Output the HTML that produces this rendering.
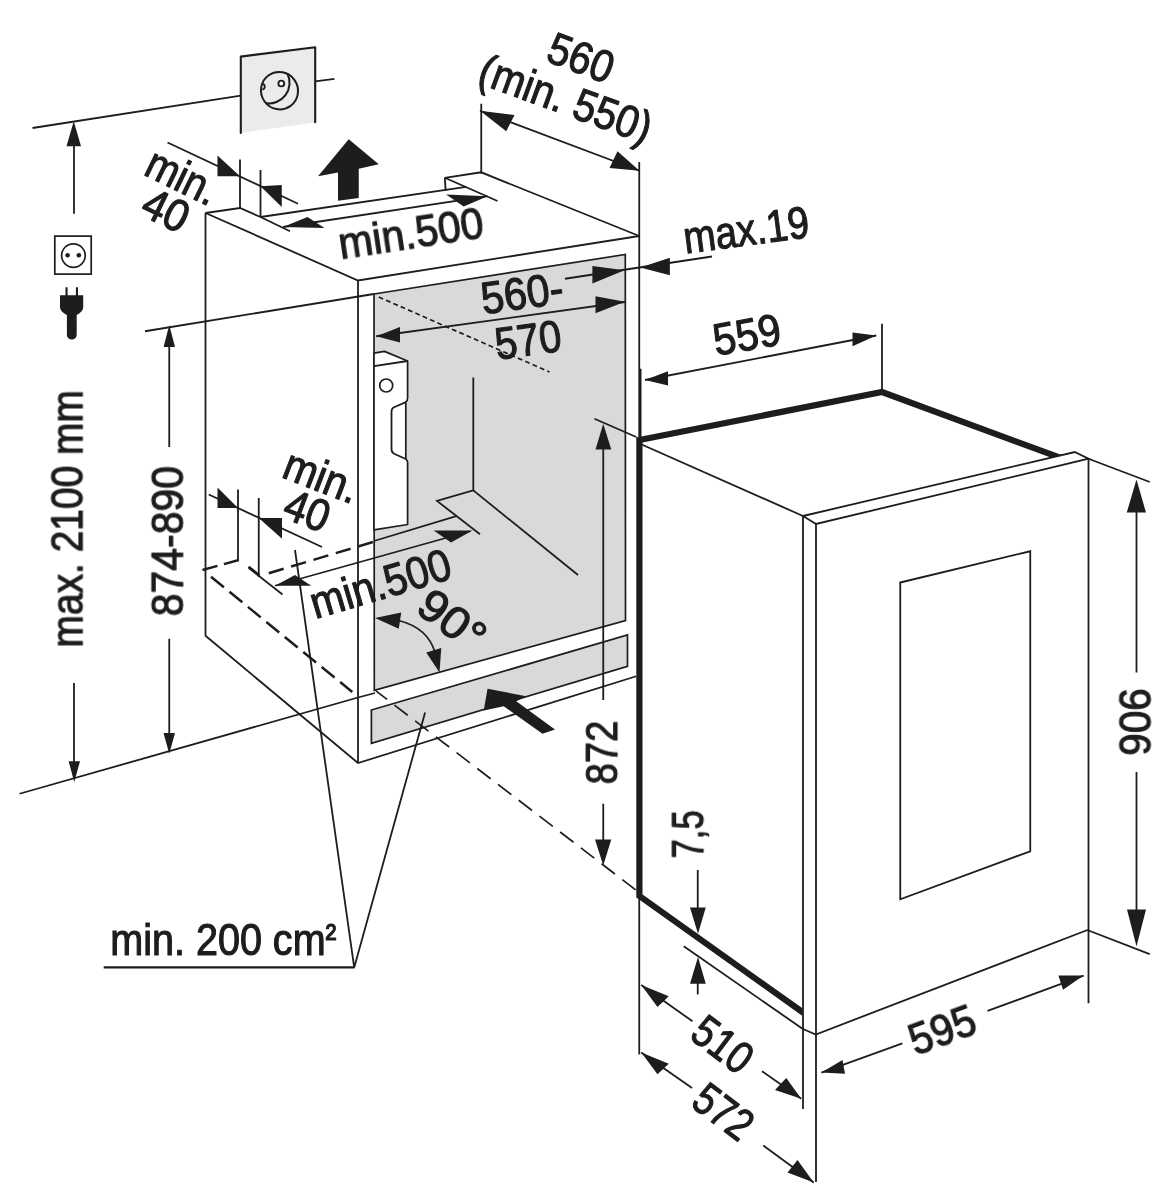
<!DOCTYPE html>
<html>
<head>
<meta charset="utf-8">
<title>Installation dimensions</title>
<style>
html,body{margin:0;padding:0;background:#fff;}
body{width:1168px;height:1200px;overflow:hidden;}
svg{display:block;}
.l{stroke:#1d1d1b;stroke-width:1.8;fill:none;stroke-linecap:butt;}
.k{stroke:#1d1d1b;stroke-width:6.2;fill:none;stroke-linejoin:miter;}
.a{fill:#1d1d1b;stroke:none;}
.g{fill:#d9d9d9;stroke:#1d1d1b;stroke-width:1.7;}
.t{font-family:"Liberation Sans",sans-serif;font-size:45px;fill:#1d1d1b;stroke:#1d1d1b;stroke-width:1.15;stroke-linejoin:round;text-anchor:middle;}
</style>
</head>
<body>
<svg width="1168" height="1200" viewBox="0 0 1168 1200">
<rect x="0" y="0" width="1168" height="1200" fill="#ffffff"/>

<!-- ===== GREY AREAS ===== -->
<g id="fills">
<polygon points="240.5,56.3 315.5,47 315.5,122.5 240.5,133" fill="#ebebeb"/>
<polygon class="g" points="374,294 625.3,254.5 625.5,620.5 374.3,690.3"/>
<polygon class="g" points="371.4,710 627.5,635 627.5,666.25 371.4,743.3"/>
</g>

<!-- ===== CEILING / SOCKET ===== -->
<g id="ceiling">
<path class="l" style="stroke-linecap:butt" d="M32.5,128 L240.8,95.7 M315.2,81.4 L334.5,78.8"/>
<path class="l" style="stroke-width:2.1;stroke-linecap:round;stroke-linejoin:round" d="M240.8,133 L240.8,56.6 L315.2,47.2 L315.2,122.3"/>
<ellipse class="l" style="stroke-width:2" cx="279.5" cy="90.7" rx="18.4" ry="18.8" transform="rotate(-35 279.5 90.7)"/>
<path class="l" style="stroke-width:2" d="M287.4,73.6 A20.6,20.6 0 0 1 265.3,103.1"/>
<circle cx="281.3" cy="83.5" r="2.9" fill="#ffffff" stroke="#1d1d1b" stroke-width="1.9"/>
<path class="l" style="stroke-width:1.8" d="M262.2,83.7 A3,3 0 0 1 262.4,89.6"/>
</g>

<!-- ===== LEFT DIMENSION max.2100 ===== -->
<g id="dim2100">
<path class="l" d="M74,146 L74,213.75 M74,683 L74,762"/>
<polygon class="a" points="73.75,121.25 66.5,146.25 81,146.25"/>
<polygon class="a" points="74.25,782 68.6,761.25 80,761.25"/>
<rect x="54.8" y="236.1" width="36.4" height="38" fill="none" stroke="#1d1d1b" stroke-width="1.7"/>
<circle cx="73.4" cy="255.6" r="11.8" fill="none" stroke="#1d1d1b" stroke-width="1.7"/>
<circle class="a" cx="67.6" cy="255.2" r="2.3"/>
<circle class="a" cx="78.85" cy="255.2" r="2.3"/>
<path class="a" d="M65.5,287.3 h2.1 v8 h8.3 v-8 h2.1 v8 h5.2 v12 Q83.2,311.8 76.7,315 V334.7 A4.9,4.9 0 0 1 66.9,334.7 V315 Q60,311.8 60,307.3 v-12 h5.5 z"/>
</g>

<!-- ===== FLOOR LINE ===== -->
<path class="l" d="M19.5,793.75 L358,697.5 L375,693"/>

<!-- ===== 874-890 ===== -->
<g id="dim874">
<path class="l" d="M145,331.25 L373.75,294"/>
<path class="l" d="M169.25,346 L169.25,447 M169.25,638.75 L169.25,734"/>
<polygon class="a" points="169.25,325 163.6,347 175,347"/>
<polygon class="a" points="169.25,753.75 163.5,733 175,733"/>
</g>

<!-- ===== CABINET ===== -->
<g id="cabinet">
<path class="l" d="M205.5,213 L205.5,635.75 L358,763 L636.25,676.25"/>
<path class="l" d="M358,280.5 L358,763"/>
<path class="l" d="M205.5,213 L358,280.5 L639.25,236"/>
<path class="l" d="M205.5,213 L240,208 L260.5,217 L290,231.25"/>
<path class="l" d="M260.5,217 L466.2,186.8"/>
<path class="l" d="M444.8,177.8 L445.7,191"/>
<path class="l" d="M444.8,177.8 L481.2,172.3 L639.25,236"/>
<path class="l" d="M444.8,177.8 L497.5,201"/>
<path class="l" d="M639.25,162 L639.25,440"/>
<path class="l" d="M640.6,368.75 L640.6,440"/>
<path class="l" d="M481.25,103.75 L481.25,173.5"/>
</g>

<!-- ===== min.40 top ===== -->
<g id="min40top">
<path class="l" d="M167.5,142.5 L298,203.75"/>
<path class="l" d="M240,159.5 L240,208 M260.5,170 L260.5,217"/>
<polygon class="a" points="240,176.3 217.5,155.5 217.5,176.3"/>
<polygon class="a" points="260.5,186.25 281.75,185 281.75,207"/>
</g>

<!-- ===== min.500 top ===== -->
<g id="min500top">
<path class="l" d="M283,227 L487.6,196.2"/>
<polygon class="a" points="283,227 307.5,217 324.5,228"/>
<polygon class="a" points="487.6,196.2 446.1,194.5 463.7,206.5"/>
<polygon class="a" points="348.75,139.25 378.75,164.25 358.75,168.75 358.75,198 338,200.75 338,172.5 318,176.25"/>
</g>

<!-- ===== 560 (min.550) ===== -->
<g id="dim560">
<path class="l" d="M480,110.75 L639.5,170.75"/>
<polygon class="a" points="480,110.75 514.5,115 506.25,131.25"/>
<polygon class="a" points="639.5,170.75 617.5,151.25 609.5,168"/>
</g>

<!-- ===== max.19 ===== -->
<g id="max19">
<path class="l" d="M565,278.75 L712,256.5"/>
<polygon class="a" points="624.5,270.3 592.4,266 592.4,283.4"/>
<polygon class="a" points="640.2,267.4 669.9,257.7 669.9,275.2"/>
</g>

<!-- ===== 560-570 ===== -->
<g id="dim570">
<path class="l" d="M376.25,336.25 L625,302"/>
<polygon class="a" points="376.25,336.25 400,327 400,342.5"/>
<polygon class="a" points="624.8,301.8 595.5,296.2 595.5,313.2"/>
<path class="l" style="stroke-width:1.7" d="M378.75,297 L549.5,372" stroke-dasharray="4.8,3.2"/>
</g>

<!-- ===== HINGE PART ===== -->
<g id="hinge">
<path d="M374,353.1 L384.5,351.4 L407.6,361 L407.6,397.7 Q407.6,401 405.8,402.1 L405.8,459 Q407.6,460 407.6,462.4 L407.6,524.5 L374,529.8 Z" fill="#ffffff" stroke="#1d1d1b" stroke-width="1.7" stroke-linejoin="round"/>
<path class="l" d="M374,366.2 L407.6,361"/>
<path class="l" style="stroke-linejoin:round" d="M405.8,402.1 L394.1,407.3 Q391.5,408.5 391.5,411.7 L391.5,449.3 Q391.5,452.5 394.1,453.7 L405.8,459"/>
<circle cx="386.2" cy="385.5" r="6.5" fill="#ffffff" stroke="#1d1d1b" stroke-width="1.7"/>
</g>

<!-- ===== INTERIOR LINES ===== -->
<g id="interior">
<path class="l" d="M473.3,377.6 L473.3,490.4 L437,500.9 L480,534.2"/>
<path class="l" d="M473.3,490.4 L578,575"/>
<path class="l" d="M374,541 L457.1,515.8"/>
</g>

<!-- ===== min.40 lower ===== -->
<g id="min40low">
<path class="l" d="M208.75,494.5 L322,547"/>
<path class="l" d="M238,489.5 L238,560 M258.75,498 L258.75,577"/>
<polygon class="a" points="238,508 217.5,487.5 217.5,508"/>
<polygon class="a" points="258.75,518 282,518 282,538.75"/>
</g>

<!-- ===== min.500 lower ===== -->
<g id="min500low">
<path class="l" d="M275,585.75 L470,531.25"/>
<polygon class="a" points="275,585.75 295,575 311.25,585.75"/>
<polygon class="a" points="472.5,530.5 433.75,530.5 451,542.5"/>
<path class="l" d="M248.75,568 L282.5,594.5"/>
</g>

<!-- ===== DASHED LINES ===== -->
<g id="dashed">
<path class="l" style="stroke-width:2.5" d="M202.5,570 L240,559.7" stroke-dasharray="15.5,6.7"/>
<path class="l" style="stroke-width:2.5" d="M268.8,573.2 L373.7,541.8" stroke-dasharray="15.5,7.8"/>
<path class="l" style="stroke-width:2.5" d="M211,576.8 L352.3,692" stroke-dasharray="16.6,7.2"/>
<path class="l" style="stroke-width:2.5" d="M248.5,566.75 L259.5,575.5"/>
<path class="l" style="stroke-width:1.7" d="M375.9,690.9 L637.5,891.25" stroke-dasharray="16.8,9.3" stroke-dashoffset="2.8"/>
</g>

<!-- ===== 90 deg ===== -->
<g id="deg90">
<path class="l" d="M398.75,620.5 Q428,628 435,652.5"/>
<polygon class="a" points="375,618 401.25,612.5 398.75,628.75"/>
<polygon class="a" points="439.5,672.5 426.25,652.5 441.25,648"/>
</g>

<!-- ===== big arrow in ===== -->
<polygon class="a" points="487.5,688.75 526.25,696.25 516.25,701.25 555,729.5 542.5,733.75 503.75,706.25 483.75,710.5"/>

<!-- ===== 872 ===== -->
<g id="dim872">
<path class="l" d="M594.5,418.75 L636.25,437"/>
<path class="l" d="M603.25,448 L603.25,700 M603.25,803.75 L603.25,840"/>
<polygon class="a" points="603.25,423.75 595.5,449.5 611.25,449.5"/>
<polygon class="a" points="603.25,865.5 595,839.5 611.25,839.5"/>
</g>

<!-- ===== LEADERS + LABEL ===== -->
<g id="label">
<path class="l" d="M295,550 L354.2,967.4 L425.1,712.4"/>
<path class="l" style="stroke-width:2.1" d="M103.7,967.4 L354.6,967.4"/>
</g>

<!-- ===== APPLIANCE ===== -->
<g id="appliance">
<path class="l" d="M640,443.75 L803,516"/>
<path class="l" d="M683.75,946.25 L802.5,1028.75"/>
<path class="l" d="M639.25,895 L639.25,1054.5"/>
<path class="l" d="M882,323.75 L882,392"/>
<path class="k" d="M639.4,437.5 L639.4,896 L806,1014.6"/>
<path class="k" d="M637,440.5 L882,392 L1060,457.7"/>
<polygon points="803,516 1074.75,452 1088.5,458.75 1088.5,930 815.75,1034.5 802.5,1028.75" fill="#ffffff"/>
<path class="l" d="M803,516 L1074.75,452 L1088.5,458.75 L816,524 Z"/>
<path class="l" d="M816,524 L816,1182"/>
<path class="l" d="M803,516 L803,1109"/>
<path class="l" d="M1088.5,458.75 L1088.5,1003.3"/>
<path class="l" d="M802.5,1028.75 L815.75,1034.5 L1087.5,930"/>
<path class="l" d="M900.25,582.5 L1030.25,551.25 L1030.25,851.25 L900.25,899.25 Z"/>
</g>

<!-- ===== 559 ===== -->
<g id="dim559">
<path class="l" d="M645,380 L876.25,335.5"/>
<polygon class="a" points="645,380 668,371.25 668,385.5"/>
<polygon class="a" points="876.25,335.5 852.5,332.5 852.5,346.25"/>
</g>

<!-- ===== 906 ===== -->
<g id="dim906">
<path class="l" d="M1088.5,458.75 L1149.75,482 M1087.3,930 L1149.7,954.2"/>
<path class="l" d="M1136.5,511 L1136.5,672.5 M1136.5,772 L1136.5,911"/>
<polygon class="a" points="1136.5,479.5 1126.75,512.5 1146,512.5"/>
<polygon class="a" points="1136.5,946.6 1127,909.5 1146,909.5"/>
</g>

<!-- ===== 7,5 ===== -->
<g id="dim75">
<path class="l" d="M697.75,870 L697.75,908 M697.75,983 L697.75,994.5"/>
<polygon class="a" points="698,933.75 690,907.5 705.75,907.5"/>
<polygon class="a" points="698,957 690,983.75 705.75,983.75"/>
</g>

<!-- ===== 510 / 572 / 595 ===== -->
<g id="dimbottom">
<path class="l" d="M641.25,985 L692.5,1021.25 M762,1071.25 L801.25,1098.75"/>
<polygon class="a" points="641.25,985 668.75,996.25 657.5,1007"/>
<polygon class="a" points="801.25,1098.75 786.25,1078 775,1090"/>
<path class="l" d="M641.25,1052.5 L692,1088 M763.25,1145.5 L813.75,1182.5"/>
<polygon class="a" points="641.25,1052.5 668.75,1063.75 657.5,1074.25"/>
<polygon class="a" points="813.75,1182.5 797.5,1160 787.5,1172.5"/>
<path class="l" d="M821.4,1072.6 L902.4,1043.4 M987.5,1010.9 L1083.6,975.6"/>
<polygon class="a" points="821.4,1072.6 842.5,1060 845,1073.75"/>
<polygon class="a" points="1083.6,975.6 1058.4,975.6 1063,989.8"/>
</g>

<!-- ===== TEXT ===== -->
<g id="text" class="t" opacity="0.999">
<text transform="translate(581.2,57.3) rotate(20.6) scale(0.895,1)" y="16">560</text>
<text transform="translate(566,98.2) rotate(20) scale(0.89,1)" y="16">(min. 550)</text>
<text transform="translate(410.75,232.5) rotate(-8.5) scale(0.913,1)" y="16">min.500</text>
<text transform="translate(182.7,175.9) rotate(26) scale(0.878,1)" y="16">min.</text>
<text transform="translate(166.3,209.6) rotate(26) scale(0.92,1)" y="16">40</text>
<text transform="translate(746.1,229.4) rotate(-7.5) scale(0.857,1)" y="16">max.19</text>
<text transform="translate(521.9,292.7) rotate(-8) scale(0.917,1)" y="16">560-</text>
<text transform="translate(528,339.4) rotate(-8) scale(0.885,1)" y="16">570</text>
<text transform="translate(746.75,334.2) rotate(-10) scale(0.905,1)" y="16">559</text>
<text transform="translate(66.4,518.8) rotate(-90) scale(0.865,1)" y="16">max. 2100 mm</text>
<text transform="translate(166.8,541.1) rotate(-90) scale(0.91,1)" y="16">874-890</text>
<text transform="translate(321.8,475.7) rotate(21) scale(0.905,1)" y="16">min.</text>
<text transform="translate(307.4,510) rotate(21) scale(0.9,1)" y="16">40</text>
<text transform="translate(380.2,583.1) rotate(-16.5) scale(0.905,1)" y="16">min.500</text>
<text transform="translate(452.5,620) rotate(37) scale(1.06,1)" y="16">90°</text>
<text transform="translate(601.1,752.5) rotate(-90) scale(0.85,1)" y="16">872</text>
<text transform="translate(687.2,834.3) rotate(-90) scale(0.77,1)" y="16">7,5</text>
<text transform="translate(1135.5,722) rotate(90) scale(0.9,1)" y="16">906</text>
<text transform="translate(723,1043.95) rotate(37) scale(0.85,1)" y="16">510</text>
<text transform="translate(723.75,1111.25) rotate(37) scale(0.83,1)" y="16">572</text>
<text transform="translate(942,1029.3) rotate(-20.3) scale(0.907,1)" y="16">595</text>
<text transform="translate(223.3,938.6) rotate(0) scale(0.879,1)" y="16">min. 200 cm<tspan font-size="37" dy="-4.5">²</tspan></text>
</g>
</svg>
</body>
</html>
